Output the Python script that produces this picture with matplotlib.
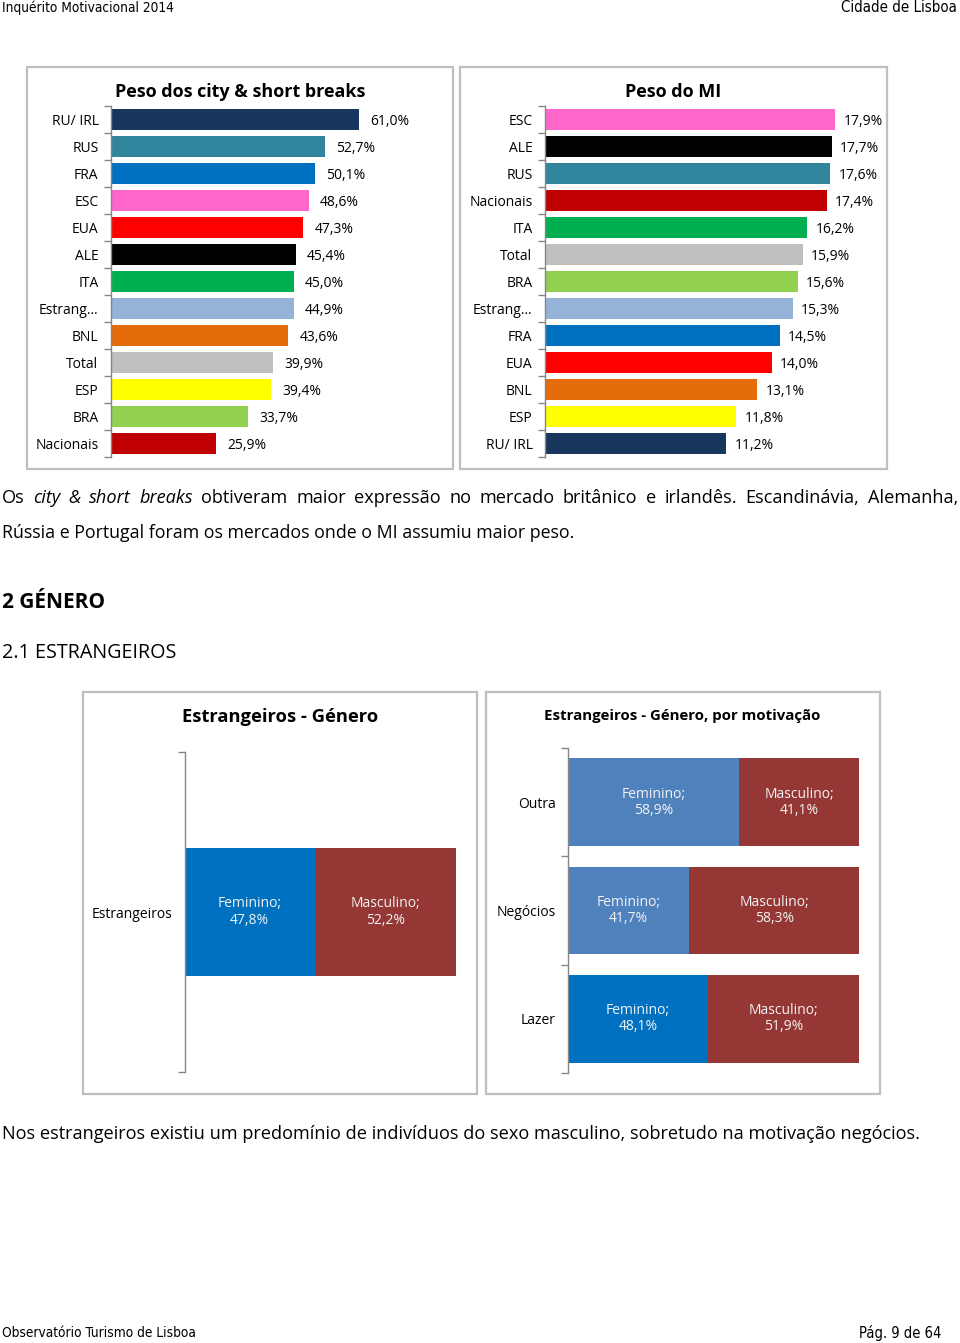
import matplotlib
matplotlib.use('Agg')
import matplotlib.pyplot as plt
from matplotlib.patches import Rectangle

# Dados
mercados_cs = ['RU/ IRL', 'RUS', 'FRA', 'ESC', 'EUA', 'ALE', 'ITA', 'Estrang…', 'BNL', 'Total', 'ESP', 'BRA', 'Nacionais']
peso_cs = [61.0, 52.7, 50.1, 48.6, 47.3, 45.4, 45.0, 44.9, 43.6, 39.9, 39.4, 33.7, 25.9]

mercados_mi = ['ESC', 'ALE', 'RUS', 'Nacionais', 'ITA', 'Total', 'BRA', 'Estrang…', 'FRA', 'EUA', 'BNL', 'ESP', 'RU/ IRL']
peso_mi = [17.9, 17.7, 17.6, 17.4, 16.2, 15.9, 15.6, 15.3, 14.5, 14.0, 13.1, 11.8, 11.2]

genero_cat = ['Estrangeiros']
genero_fem = [47.8]
genero_masc = [52.2]

motivacao = ['Outra', 'Negócios', 'Lazer']
motiv_fem = [58.9, 41.7, 48.1]
motiv_masc = [41.1, 58.3, 51.9]

# Cores por mercado
cores = {
    'RU/ IRL': '#17375E', 'RUS': '#31859C', 'FRA': '#0070C0', 'ESC': '#FF66CC',
    'EUA': '#FF0000', 'ALE': '#000000', 'ITA': '#00B050', 'Estrang…': '#95B3D7',
    'BNL': '#E46C0A', 'Total': '#BFBFBF', 'ESP': '#FFFF00', 'BRA': '#92D050',
    'Nacionais': '#C00000',
}
cor_fem = ['#4F81BD', '#4F81BD', '#0070C0']
cor_masc = '#953735'

FONT = 'Open Sans'
plt.rcParams['font.family'] = [FONT, 'DejaVu Sans']

W, H = 960, 1343
fig = plt.figure(figsize=(W / 100, H / 100), dpi=100)

# eixo de fundo em pixels
bg = fig.add_axes([0, 0, 1, 1])
bg.set_xlim(0, W)
bg.set_ylim(H, 0)
bg.axis('off')


def pix_axes(x0, y0, x1, y1):
    ax = fig.add_axes([x0 / W, 1 - y1 / H, (x1 - x0) / W, (y1 - y0) / H])
    ax.set_facecolor('none')
    return ax


def estilo_categorias(ax, labels, pad=9):
    n = len(labels)
    for s in ['top', 'right', 'bottom']:
        ax.spines[s].set_visible(False)
    ax.spines['left'].set_color('#868686')
    ax.spines['left'].set_linewidth(1)
    ax.set_xticks([])
    ax.set_yticks(range(n))
    ax.set_yticklabels(labels, fontsize=10)
    ax.set_yticks([i - 0.5 for i in range(n + 1)], minor=True)
    ax.tick_params(axis='y', which='major', length=0, pad=pad)
    ax.tick_params(axis='y', which='minor', length=5, color='#868686', width=1)
    ax.set_ylim(n - 0.5, -0.5)


def pct(v):
    return f'{v:.1f}'.replace('.', ',') + '%'


# caixas dos gráficos
for (x0, y0, x1, y1) in [(27, 67, 453, 469), (460, 67, 887, 469), (83, 692, 477, 1094), (486, 692, 880, 1094)]:
    bg.add_patch(Rectangle((x0, y0), x1 - x0, y1 - y0, fill=False, edgecolor='#BFBFBF', lw=1.6))

# 1) Peso dos city & short breaks
ax1 = pix_axes(111, 106, 111 + 4.066 * 70, 457)
ax1.barh(range(len(mercados_cs)), peso_cs, height=0.79, color=[cores[m] for m in mercados_cs])
ax1.set_xlim(0, 70)
estilo_categorias(ax1, mercados_cs)
for i, v in enumerate(peso_cs):
    ax1.annotate(pct(v), (v, i), xytext=(8, 0), textcoords='offset points', va='center_baseline', fontsize=10)
bg.text(240, 92, 'Peso dos city & short breaks', ha='center', va='center', fontsize=13, fontweight='bold')

# 2) Peso do MI
ax2 = pix_axes(545, 106, 545 + 16.2 * 20, 457)
ax2.barh(range(len(mercados_mi)), peso_mi, height=0.79, color=[cores[m] for m in mercados_mi])
ax2.set_xlim(0, 20)
estilo_categorias(ax2, mercados_mi)
for i, v in enumerate(peso_mi):
    ax2.annotate(pct(v), (v, i), xytext=(6, 0), textcoords='offset points', va='center_baseline', fontsize=10)
bg.text(673, 92, 'Peso do MI', ha='center', va='center', fontsize=13, fontweight='bold')

# 3) Estrangeiros - Género
ax3 = pix_axes(185, 752, 456, 1072)
ax3.barh(range(1), genero_fem, height=0.4, color='#0070C0')
ax3.barh(range(1), genero_masc, left=genero_fem, height=0.4, color=cor_masc)
ax3.set_xlim(0, 100)
estilo_categorias(ax3, genero_cat)
for i in range(1):
    ax3.text(genero_fem[i] / 2, i, 'Feminino;\n' + pct(genero_fem[i]), ha='center', va='center',
             color='#F2F2F2', fontsize=10, linespacing=1.1)
    ax3.text(genero_fem[i] + genero_masc[i] / 2, i, 'Masculino;\n' + pct(genero_masc[i]), ha='center',
             va='center', color='#F2F2F2', fontsize=10, linespacing=1.1)
bg.text(280, 717, 'Estrangeiros - Género', ha='center', va='center', fontsize=13.2, fontweight='bold')

# 4) Estrangeiros - Género, por motivação
ax4 = pix_axes(568, 748, 859, 1073)
ax4.barh(range(3), motiv_fem, height=0.81, color=cor_fem)
ax4.barh(range(3), motiv_masc, left=motiv_fem, height=0.81, color=cor_masc)
ax4.set_xlim(0, 100)
estilo_categorias(ax4, motivacao)
for i in range(3):
    ax4.text(motiv_fem[i] / 2, i, 'Feminino;\n' + pct(motiv_fem[i]), ha='center', va='center',
             color='#F2F2F2', fontsize=10, linespacing=1.1)
    ax4.text(motiv_fem[i] + motiv_masc[i] / 2, i, 'Masculino;\n' + pct(motiv_masc[i]), ha='center',
             va='center', color='#F2F2F2', fontsize=10, linespacing=1.1)
bg.text(682, 716, 'Estrangeiros - Género, por motivação', ha='center', va='center', fontsize=10.8, fontweight='bold')

# Texto da página
FS = 13.1
cond = dict(family='DejaVu Sans', fontstretch='condensed')
bg.text(2, 8, 'Inquérito Motivacional 2014', ha='left', va='center', fontsize=9.8, **cond)
bg.text(957, 8, 'Cidade de Lisboa', ha='right', va='center', fontsize=10.8, **cond)

# primeira linha justificada (2 a 958 px)
linha1 = ['Os'] + ['city', '&', 'short', 'breaks'] + \
    'obtiveram maior expressão no mercado britânico e irlandês. Escandinávia, Alemanha,'.split()
italico = [False, True, True, True, True] + [False] * (len(linha1) - 5)
palavras = [bg.text(0, 503, w, ha='left', va='baseline', fontsize=FS,
                    style='italic' if it else 'normal') for w, it in zip(linha1, italico)]
rend = fig.canvas.get_renderer()
larg = [p.get_window_extent(rend).width for p in palavras]
gap = (956 - sum(larg)) / (len(palavras) - 1)
x = 2
for p, w in zip(palavras, larg):
    p.set_x(x)
    x += w + gap

bg.text(2, 538, 'Rússia e Portugal foram os mercados onde o MI assumiu maior peso.', ha='left', va='baseline', fontsize=12.8)
bg.text(2, 602, '2 GÉNERO', ha='left', va='center', fontsize=15, fontweight='bold')
bg.text(2, 653, '2.1 ESTRANGEIROS', ha='left', va='center', fontsize=14.2)
bg.text(2, 1134, 'Nos estrangeiros existiu um predomínio de indivíduos do sexo masculino, sobretudo na motivação negócios.',
        ha='left', va='center', fontsize=FS)
bg.text(2, 1333, 'Observatório Turismo de Lisboa', ha='left', va='center', fontsize=9.8, **cond)
bg.text(941, 1333, 'Pág. 9 de 64', ha='right', va='center', fontsize=10.5, **cond)

fig.savefig('out.png', dpi=100)
